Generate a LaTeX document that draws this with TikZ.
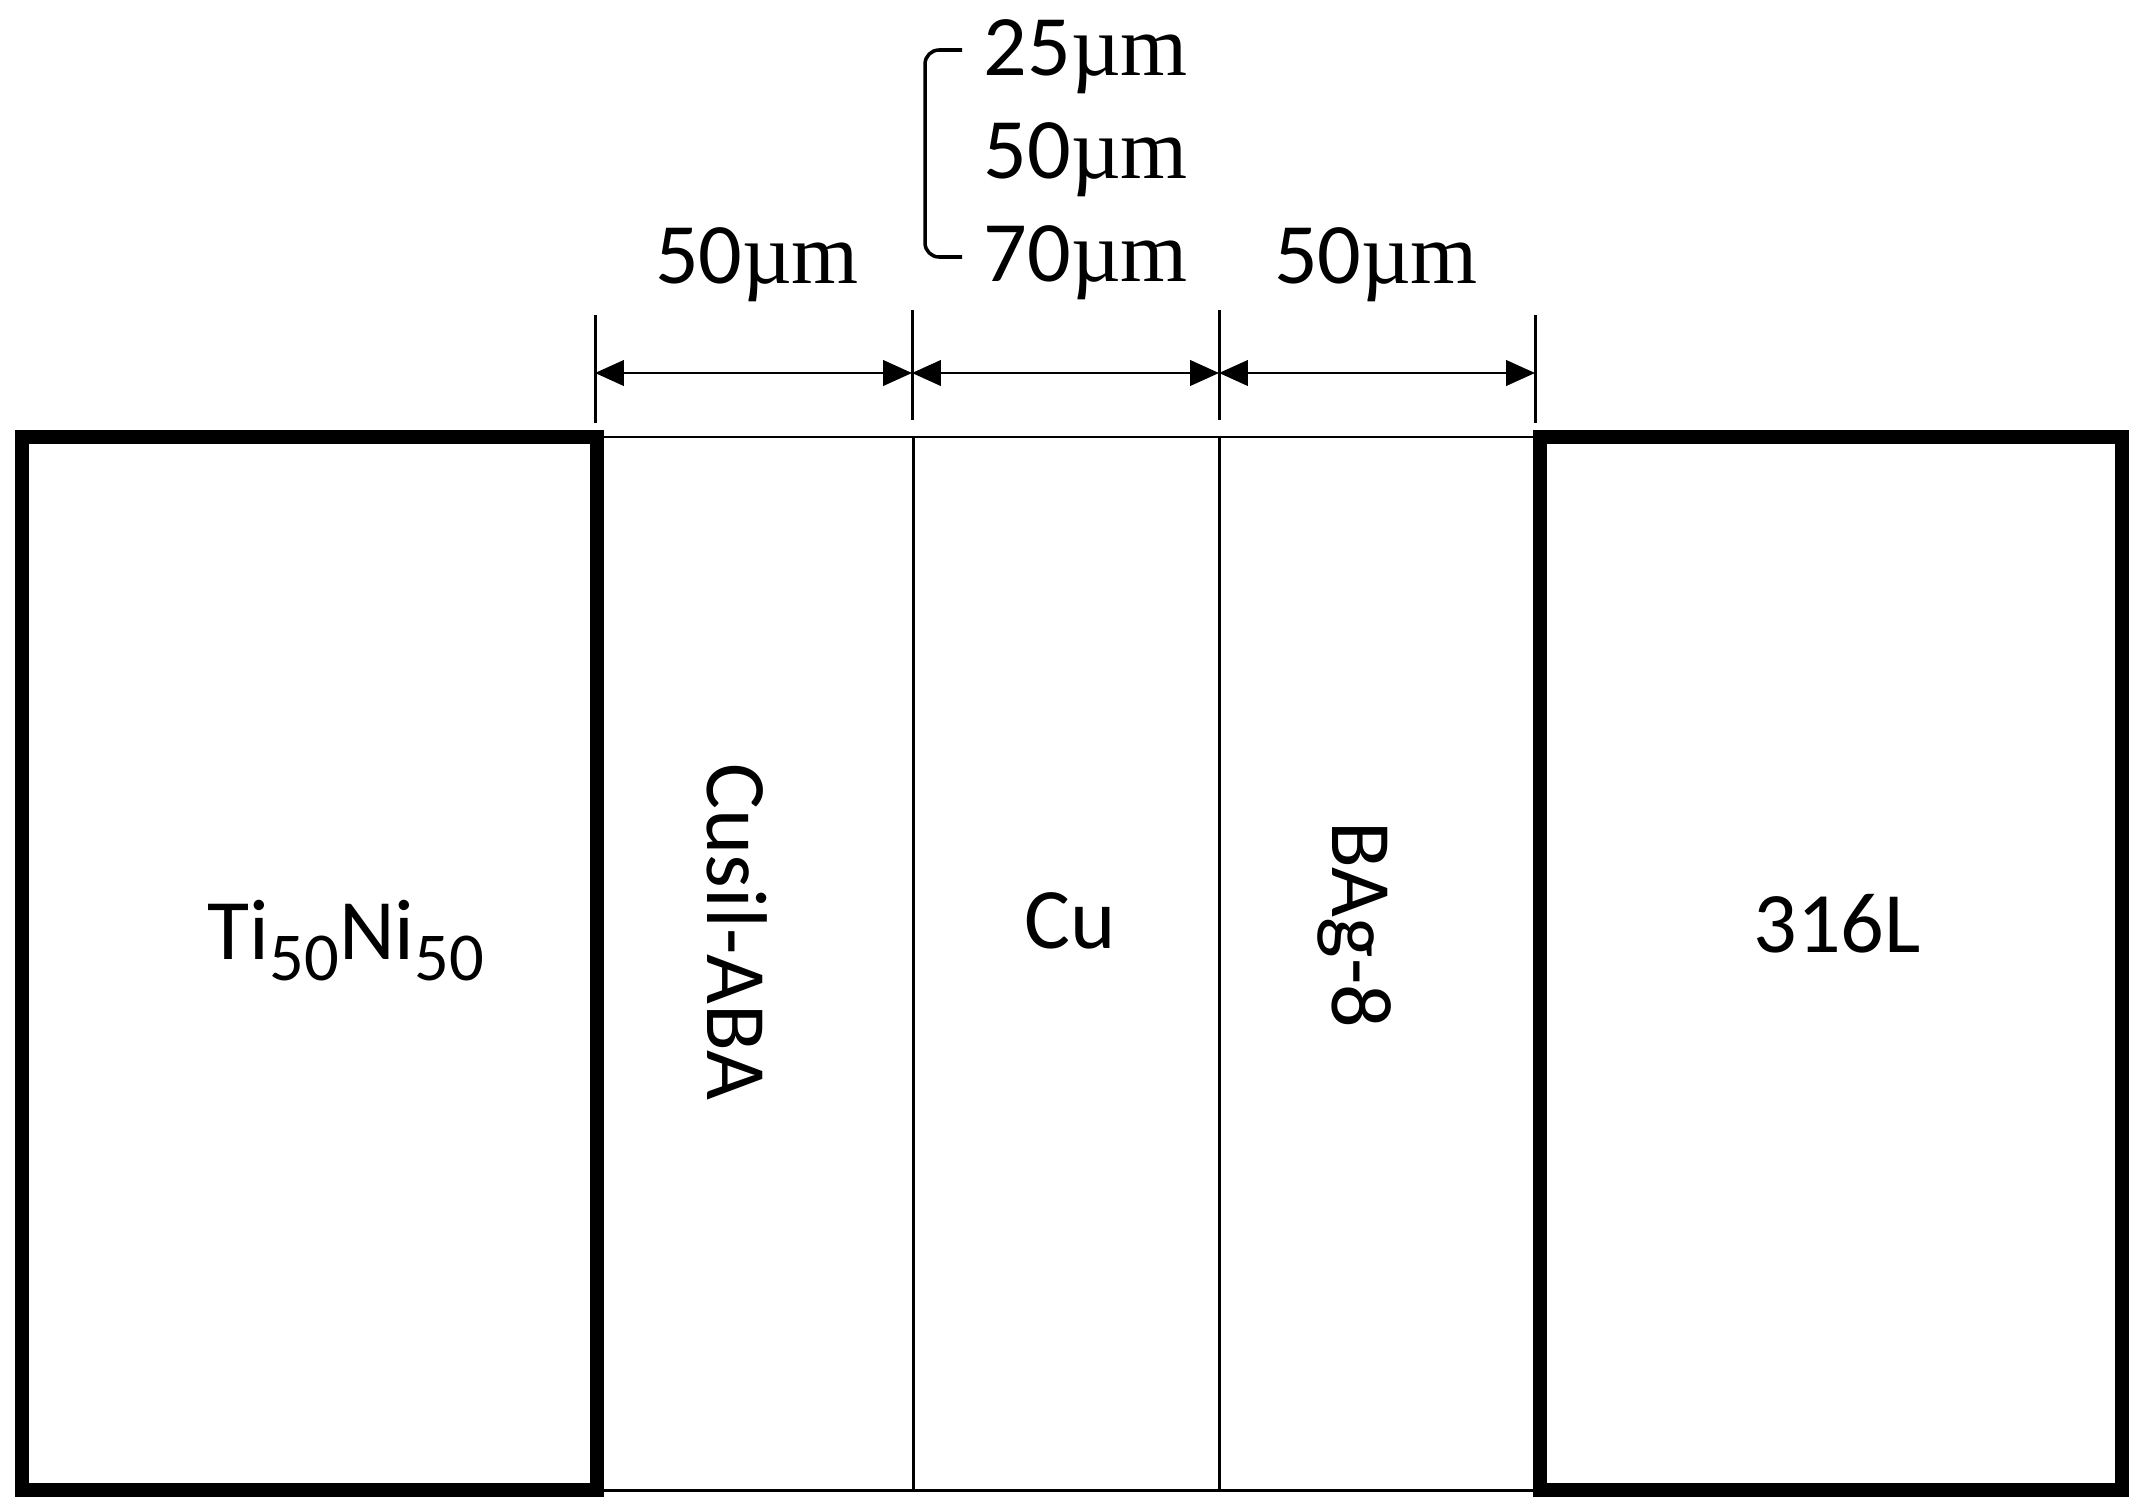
\documentclass[tikz,border=0pt]{standalone}
\usepackage{fontspec}
\setmainfont{Carlito}
\newfontfamily\umfont{Liberation Serif}
\usetikzlibrary{arrows.meta}
\newcommand\myum{{\umfont µm}}
\newcommand\mysub[1]{\raisebox{-6pt}{\fontsize{19.5}{21}\selectfont #1}}
\begin{document}
\begin{tikzpicture}[x=0.01cm,y=-0.01cm,
  thickbox/.style={line width=3.8pt, line join=miter},
  thinline/.style={line width=0.85pt},
  extline/.style={line width=0.85pt},
  dimline/.style={line width=0.8pt, {Triangle[length=8.2pt,width=7.2pt]}-{Triangle[length=8.2pt,width=7.2pt]}},
  lbl/.style={font=\fontsize{24.5}{29}\selectfont, inner sep=0pt, anchor=base}]
\useasboundingbox (0,0) rectangle (2136,1509);
% layers
\draw[thinline] (597,437) rectangle (1540,1490);
\draw[thinline] (913,437) -- (913,1490);
\draw[thinline] (1219,437) -- (1219,1490);
\draw[thickbox] (22,437) rectangle (597,1490);
\draw[thickbox] (1540,437) rectangle (2122,1490);
% extension lines
\coordinate (e1t) at (595,315); \coordinate (e1b) at (595,423);
\coordinate (e2t) at (912,310); \coordinate (e2b) at (912,420);
\coordinate (e3t) at (1219,310); \coordinate (e3b) at (1219,420);
\coordinate (e4t) at (1535,315); \coordinate (e4b) at (1535,423);
\draw[extline] (e1t) -- (e1b);
\draw[extline] (e2t) -- (e2b);
\draw[extline] (e3t) -- (e3b);
\draw[extline] (e4t) -- (e4b);
\coordinate (d1) at (595,373);
\coordinate (d2) at (912,373);
\coordinate (d3) at (1219,373);
\coordinate (d4) at (1535,373);
\draw[dimline] (d1) -- (d2);
\draw[dimline] (d2) -- (d3);
\draw[dimline] (d3) -- (d4);
% dimension labels
\node[lbl] (w1) at (757,283) {50\myum};
\node[lbl] (w3) at (1376,283) {50\myum};
\node[lbl, anchor=base west] (w2c) at (983,281) {70\myum};
\node[lbl, anchor=base west] (w2b) at (983,178) {50\myum};
\node[lbl, anchor=base west] (w2a) at (983,75) {25\myum};
\draw[line width=1pt, rounded corners=4pt] (962,50) -- (925,50) -- (925,257) -- (962,257);
% material labels
\node[lbl] (tini) at (346,959) {Ti\mysub{50}Ni\mysub{50}};
\node[lbl, rotate=-90] (cusil) at (707,932) {Cusil-ABA};
\node[lbl] (cu) at (1070,948) {Cu};
\node[lbl, rotate=-90] (bag) at (1332,925) {BAg-8};
\node[lbl] (ss) at (1837,952) {316L};
\end{tikzpicture}
\end{document}
